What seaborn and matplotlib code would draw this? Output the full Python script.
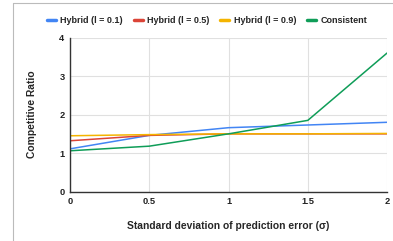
import pandas as pd
import seaborn as sns
import matplotlib.pyplot as plt
from matplotlib.lines import Line2D

# values
sigma = [0, 0.5, 1, 1.5, 2]
hybrid_01 = [1.11, 1.46, 1.66, 1.73, 1.80]
hybrid_05 = [1.32, 1.46, 1.50, 1.50, 1.50]
hybrid_09 = [1.45, 1.48, 1.50, 1.50, 1.51]
consistent = [1.06, 1.18, 1.50, 1.85, 3.60]

series = ["Hybrid (l = 0.1)", "Hybrid (l = 0.5)", "Hybrid (l = 0.9)", "Consistent"]
colors = ["#4285F4", "#DB4437", "#F4B400", "#0F9D58"]
x_ticks = [0, 0.5, 1, 1.5, 2]
x_tick_labels = ["0", "0.5", "1", "1.5", "2"]
y_ticks = [0, 1, 2, 3, 4]

df = pd.DataFrame({
    "sigma": sigma * 4,
    "ratio": hybrid_01 + hybrid_05 + hybrid_09 + consistent,
    "series": [s for s in series for _ in sigma],
})

sns.set_style("white")
plt.rcParams["font.family"] = ["Liberation Sans", "DejaVu Sans"]

fig = plt.figure(figsize=(3.93, 2.41), dpi=100)
ax = fig.add_axes([0.178, 0.205, 0.807, 0.639])

sns.lineplot(data=df, x="sigma", y="ratio", hue="series", hue_order=series,
             palette=colors, linewidth=1.1, legend=False, ax=ax)

ax.set_xlim(0, 2)
ax.set_ylim(0, 4)
ax.set_xticks(x_ticks, x_tick_labels)
ax.set_yticks(y_ticks)
ax.grid(True, color="#e0e0e0", linewidth=0.8)
ax.set_axisbelow(True)
for side in ["top", "right"]:
    ax.spines[side].set_visible(False)
for side in ["left", "bottom"]:
    ax.spines[side].set_color("#333333")
    ax.spines[side].set_linewidth(1.0)
ax.tick_params(length=0, labelsize=6.7, pad=4, colors="#222222")
for lab in ax.get_xticklabels() + ax.get_yticklabels():
    lab.set_fontweight("bold")

ax.set_xlabel("Standard deviation of prediction error (σ)", fontsize=7.4,
              fontweight="bold", labelpad=11)
ax.set_ylabel("Competitive Ratio", fontsize=7.4, fontweight="bold", labelpad=16)

handles = [Line2D([], [], color=c, linewidth=2.5) for c in colors]
fig.legend(handles, series, loc="center", bbox_to_anchor=(0.527, 0.915), ncol=4,
           frameon=False, handlelength=1.0, handletextpad=0.5,
           columnspacing=1.2, prop={"weight": "bold", "size": 6.5})

# screenshot frame lines
fig.add_artist(Line2D([13 / 393, 1], [1 - 3 / 241, 1 - 3 / 241],
                      color="#bbbbbb", linewidth=0.8))
fig.add_artist(Line2D([13 / 393, 13 / 393], [0, 1 - 3 / 241],
                      color="#bbbbbb", linewidth=0.8))

fig.savefig("out.png", dpi=100)
